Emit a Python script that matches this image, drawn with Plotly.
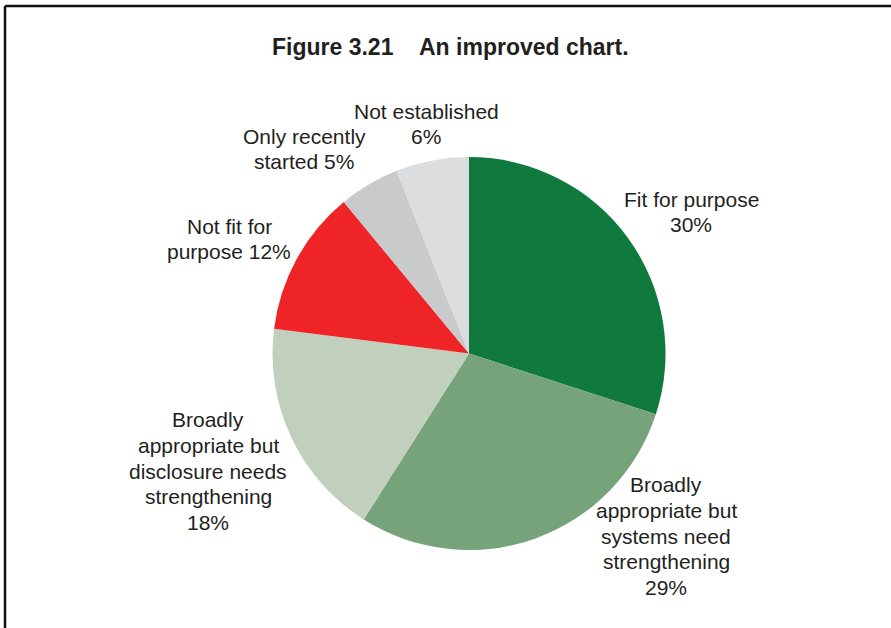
import plotly.graph_objects as go

# Survey result shares, clockwise from 12 o'clock
categories = [
    "Fit for purpose",
    "Broadly appropriate but systems need strengthening",
    "Broadly appropriate but disclosure needs strengthening",
    "Not fit for purpose",
    "Only recently started",
    "Not established",
]
shares = [30, 29, 18, 12, 5, 6]
colors = ["#107A3E", "#76A37A", "#C1D0BC", "#EE2426", "#C8CACB", "#DCDDDF"]

# Label wording, split into lines (the value is appended from shares)
label_lines = [
    ["Fit for purpose", "{v}%"],
    ["Broadly", "appropriate but", "systems need", "strengthening", "{v}%"],
    ["Broadly", "appropriate but", "disclosure needs", "strengthening", "{v}%"],
    ["Not fit for", "purpose {v}%"],
    ["Only recently", "started {v}%"],
    ["Not established", "{v}%"],
]
# Centre of each label block, in pixels from top-left of the page
label_centres = [(691, 212), (666, 536), (208, 471), (229, 239), (304, 149), (426, 124)]

W, H = 891, 628
CX, CY, R = 469, 353.5, 196.5
LINE_GAP = 25.7
TEXT = "#231F20"
FONT = "Liberation Sans, Arial, Helvetica, sans-serif"

fig = go.Figure(
    go.Pie(
        labels=categories,
        values=shares,
        sort=False,
        direction="clockwise",
        rotation=0,
        marker=dict(colors=colors, line=dict(width=0)),
        textinfo="none",
        hoverinfo="label+percent",
        showlegend=False,
        domain=dict(
            x=[(CX - R) / W, (CX + R) / W],
            y=[(H - CY - R) / H, (H - CY + R) / H],
        ),
    )
)

annotations = []
for lines, (lx, ly), v in zip(label_lines, label_centres, shares):
    n = len(lines)
    for i, line in enumerate(lines):
        y = ly + (i - (n - 1) / 2) * LINE_GAP
        annotations.append(
            dict(
                text=line.format(v=v),
                x=lx / W,
                y=1 - y / H,
                xref="paper",
                yref="paper",
                xanchor="center",
                yanchor="middle",
                showarrow=False,
                font=dict(family=FONT, size=21, color=TEXT),
            )
        )

annotations.append(
    dict(
        text="<b>Figure 3.21\u00a0\u00a0\u00a0\u00a0An improved chart.</b>",
        x=450 / W,
        y=1 - 47 / H,
        xref="paper",
        yref="paper",
        xanchor="center",
        yanchor="middle",
        showarrow=False,
        font=dict(family=FONT, size=23, color=TEXT),
    )
)

# Frame lines along the left and top edges
shapes = [
    dict(type="line", xref="paper", yref="paper",
         x0=5 / W, x1=5 / W, y0=0, y1=1 - 6 / H,
         line=dict(color="#111111", width=2.5)),
    dict(type="line", xref="paper", yref="paper",
         x0=5 / W, x1=1, y0=1 - 6 / H, y1=1 - 6 / H,
         line=dict(color="#111111", width=2.5)),
]

fig.update_layout(
    width=W,
    height=H,
    margin=dict(l=0, r=0, t=0, b=0),
    paper_bgcolor="white",
    plot_bgcolor="white",
    annotations=annotations,
    shapes=shapes,
)

fig.write_html("out.html")
